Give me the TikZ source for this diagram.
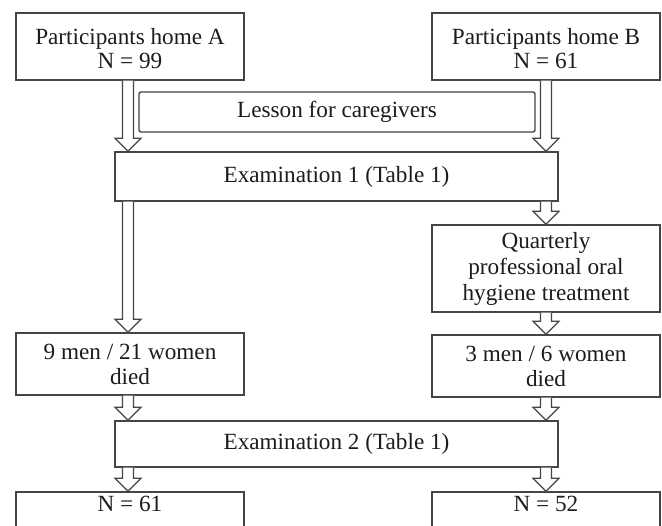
\documentclass[tikz,border=0pt]{standalone}
\usepackage{fontspec}
\setmainfont{Liberation Serif}
\usetikzlibrary{calc}
\definecolor{linec}{HTML}{454545}
\definecolor{textc}{HTML}{1C1C1C}
\tikzset{
  box/.style={draw=linec, line width=1.4pt, rectangle, align=center, text=textc,
    font=\fontsize{23.2}{25}\selectfont, inner sep=0pt},
  lbl/.style={align=center, text=textc, font=\fontsize{23.2}{25}\selectfont, inner sep=0pt},
  blockarrow/.style={draw=linec, line width=1.2pt, fill=white, line join=miter}
}
\newcommand{\barrow}[2]{%
  \draw[blockarrow] let \p1=#1, \p2=#2 in
    (\x1-5.5pt,\y1) -- (\x1-5.5pt,\y2+13pt) -- (\x1-13pt,\y2+13pt) -- (\x1,\y2)
    -- (\x1+13pt,\y2+13pt) -- (\x1+5.5pt,\y2+13pt) -- (\x1+5.5pt,\y1);}
\begin{document}
\begin{tikzpicture}[x=1pt,y=-1pt]
\useasboundingbox (0,0) rectangle (662,526);
\clip (0,0) rectangle (662,526);
\fill[white] (0,0) rectangle (662,526);
% columns
\coordinate (xl) at (128,0);
\coordinate (xr) at (546,0);
% nodes
\node[box, minimum width=228pt, minimum height=67pt] (A) at (130,46.5) {};
\node[lbl, font=\fontsize{23.2}{23.5}\selectfont] (At) at (130,48.6)
  {Participants home A\\N = 99};
\node[box, minimum width=228pt, minimum height=67pt] (B) at (546,46.5) {};
\node[lbl, font=\fontsize{23.2}{23.5}\selectfont] (Bt) at (546,48.6)
  {Participants home B\\N = 61};
\node[box, rounded corners=2pt, minimum width=396pt, minimum height=40pt] (L) at (337,112)
  {Lesson for caregivers};
\node[box, minimum width=443pt, minimum height=49pt] (E1) at (336.5,176.5)
  {Examination 1 (Table 1)};
\node[box, minimum width=228pt, minimum height=87pt, font=\fontsize{23.2}{26}\selectfont] (Q) at (546,268.5)
  {Quarterly\\professional oral\\hygiene treatment};
\node[box, minimum width=228pt, minimum height=62pt] (M1) at (130,364)
  {9 men / 21 women\\died};
\node[box, minimum width=228pt, minimum height=62pt] (M2) at (546,366)
  {3 men / 6 women\\died};
\node[box, minimum width=443pt, minimum height=46pt] (E2) at (336.5,444)
  {Examination 2 (Table 1)};
\node[box, minimum width=228pt, minimum height=50pt] (F1) at (130,517) {};
\node[box, minimum width=228pt, minimum height=50pt] (F2) at (546,517) {};
\node[lbl] (F1t) at (130,504) {N = 61};
\node[lbl] (F2t) at (546,504) {N = 52};
% arrows
\barrow{(A.south -| xl)}{(E1.north -| xl)}
\barrow{(B.south -| xr)}{(E1.north -| xr)}
\barrow{(E1.south -| xr)}{(Q.north -| xr)}
\barrow{(E1.south -| xl)}{(M1.north -| xl)}
\barrow{(Q.south -| xr)}{(M2.north -| xr)}
\barrow{(M1.south -| xl)}{(E2.north -| xl)}
\barrow{(M2.south -| xr)}{(E2.north -| xr)}
\barrow{(E2.south -| xl)}{(F1.north -| xl)}
\barrow{(E2.south -| xr)}{(F2.north -| xr)}
\end{tikzpicture}
\end{document}
